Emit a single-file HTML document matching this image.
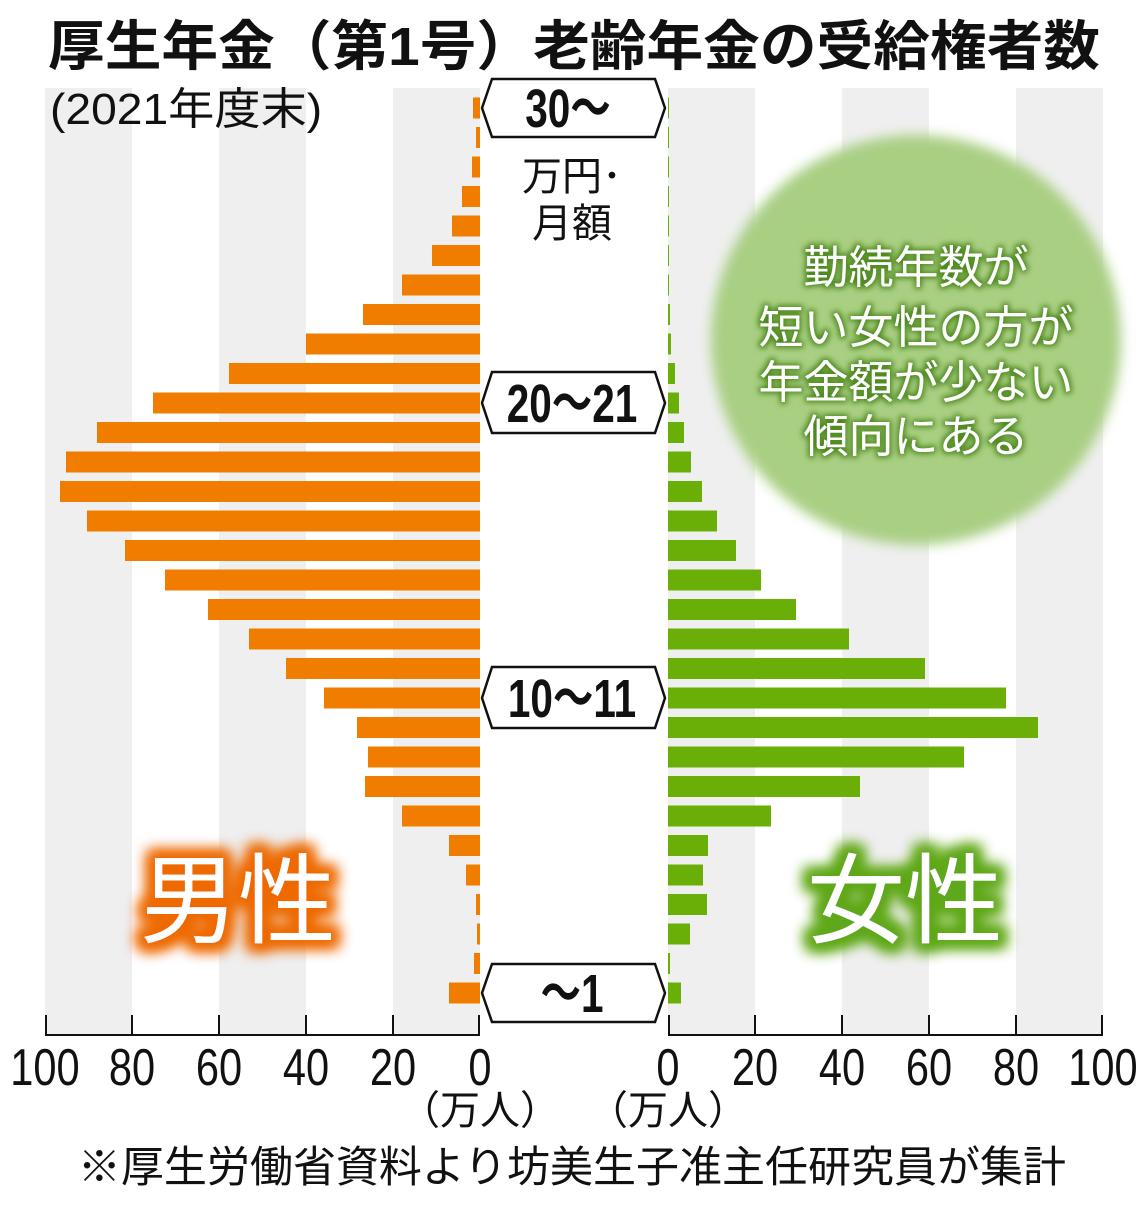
<!DOCTYPE html>
<html><head><meta charset="utf-8"><style>
body{margin:0;background:#fff}
svg text{font-family:"Liberation Sans","Noto Sans CJK JP",sans-serif}
</style></head><body>
<svg width="1148" height="1200" viewBox="0 0 1148 1200" xmlns="http://www.w3.org/2000/svg">
<defs>
<filter id="go" x="-30%" y="-30%" width="160%" height="160%">
<feMorphology in="SourceAlpha" operator="dilate" radius="7" result="d"/>
<feGaussianBlur in="d" stdDeviation="7" result="b"/>
<feFlood flood-color="#ee6a00"/><feComposite in2="b" operator="in" result="g"/>
<feMerge><feMergeNode in="g"/><feMergeNode in="g"/><feMergeNode in="SourceGraphic"/></feMerge>
</filter>
<filter id="gg" x="-30%" y="-30%" width="160%" height="160%">
<feMorphology in="SourceAlpha" operator="dilate" radius="7" result="d"/>
<feGaussianBlur in="d" stdDeviation="7" result="b"/>
<feFlood flood-color="#5fa81a"/><feComposite in2="b" operator="in" result="g"/>
<feMerge><feMergeNode in="g"/><feMergeNode in="g"/><feMergeNode in="SourceGraphic"/></feMerge>
</filter>
<filter id="gt" x="-20%" y="-20%" width="140%" height="140%">
<feMorphology in="SourceAlpha" operator="dilate" radius="2" result="d"/>
<feGaussianBlur in="d" stdDeviation="3" result="b"/>
<feFlood flood-color="#4e8a1c"/><feComposite in2="b" operator="in" result="g"/>
<feMerge><feMergeNode in="g"/><feMergeNode in="SourceGraphic"/></feMerge>
</filter>
<filter id="cb"><feGaussianBlur stdDeviation="6"/></filter>
</defs>
<g fill="#efefef">
<rect x="45" y="88" width="87" height="947"/>
<rect x="219" y="88" width="87" height="947"/>
<rect x="393" y="88" width="87" height="947"/>
<rect x="668" y="88" width="87" height="947"/>
<rect x="842" y="88" width="87" height="947"/>
<rect x="1016" y="88" width="87" height="947"/>
</g>
<circle cx="916" cy="340" r="205" fill="#a9cf83" filter="url(#cb)"/>
<g font-size="45" fill="#fff" text-anchor="middle" filter="url(#gt)">
<text x="916" y="283">勤続年数が</text>
<text x="916" y="343">短い女性の方が</text>
<text x="916" y="398">年金額が少ない</text>
<text x="916" y="452">傾向にある</text>
</g>
<g id="bars"></g>
<g fill="#fff" stroke="#111" stroke-width="2.5">
<polygon points="482,108 492,79 655,79 665,108 655,137 492,137"/>
<polygon points="482,403 492,372 655,372 665,403 655,433 492,433"/>
<polygon points="482,698 492,667 655,667 665,698 655,728 492,728"/>
<polygon points="482,993 492,964 655,964 665,993 655,1022 492,1022"/>
</g>
<g font-size="54" font-weight="bold" fill="#111" text-anchor="middle">
<text transform="translate(568,127) scale(0.75,1)">30～</text>
<text transform="translate(572,422) scale(0.75,1)">20～21</text>
<text transform="translate(572,717) scale(0.75,1)">10～11</text>
<text transform="translate(572,1012) scale(0.75,1)">～1</text>
</g>
<g font-size="40" fill="#111" text-anchor="middle">
<text x="572" y="190">万円･</text>
<text x="572" y="237">月額</text>
</g>
<g stroke="#111" stroke-width="2" fill="none">
<path d="M45,1035H480M668,1035H1103"/>
<path d="M46,1015V1035M132,1015V1035M219,1015V1035M306,1015V1035M393,1015V1035M479,1015V1035"/>
<path d="M669,1015V1035M755,1015V1035M842,1015V1035M929,1015V1035M1016,1015V1035M1102,1015V1035"/>
</g>
<g font-size="52" fill="#111" text-anchor="middle">
<text transform="translate(45,1085) scale(0.8,1)">100</text>
<text transform="translate(132,1085) scale(0.8,1)">80</text>
<text transform="translate(219,1085) scale(0.8,1)">60</text>
<text transform="translate(306,1085) scale(0.8,1)">40</text>
<text transform="translate(393,1085) scale(0.8,1)">20</text>
<text transform="translate(480,1085) scale(0.8,1)">0</text>
<text transform="translate(668,1085) scale(0.8,1)">0</text>
<text transform="translate(755,1085) scale(0.8,1)">20</text>
<text transform="translate(842,1085) scale(0.8,1)">40</text>
<text transform="translate(929,1085) scale(0.8,1)">60</text>
<text transform="translate(1016,1085) scale(0.8,1)">80</text>
<text transform="translate(1103,1085) scale(0.8,1)">100</text>
</g>
<g font-size="40" fill="#111" text-anchor="middle">
<text x="480" y="1124">（万人）</text>
<text x="668" y="1124">（万人）</text>
</g>
<text x="572" y="1182" font-size="43" fill="#111" text-anchor="middle">※厚生労働省資料より坊美生子准主任研究員が集計</text>
<text transform="translate(574,65) scale(1.05,1)" font-size="54" font-weight="bold" fill="#111" text-anchor="middle">厚生年金（第1号）老齢年金の受給権者数</text>
<text transform="translate(50,124) scale(1.05,1)" font-size="44" fill="#111">(2021年度末)</text>
<text x="238" y="935" font-size="98" fill="#fff" text-anchor="middle" filter="url(#go)">男性</text>
<text x="905" y="935" font-size="98" fill="#fff" text-anchor="middle" filter="url(#gg)">女性</text>
</svg>
<script>
var L=[473,476,472,462,452,432,402,363,306,229,153,97,66,60,87,125,165,208,249,286,324,357,368,365,402,449,466,476,477,474,449];
var R=[669,669,669,669,669,669,669,670,671,675,679,684,691,702,717,736,761,796,849,925,1006,1038,964,860,771,708,703,707,690,670,681];
var g=document.getElementById('bars'),s='';
for(var i=0;i<31;i++){var y=108+i*29.5-10.5;
s+='<rect x="'+L[i]+'" y="'+y+'" width="'+(480-L[i])+'" height="21" fill="#f07d00"/>';
s+='<rect x="668" y="'+y+'" width="'+Math.max(1,R[i]-668)+'" height="21" fill="#6aaf08"/>';}
g.innerHTML=s;
</script>
</body></html>
